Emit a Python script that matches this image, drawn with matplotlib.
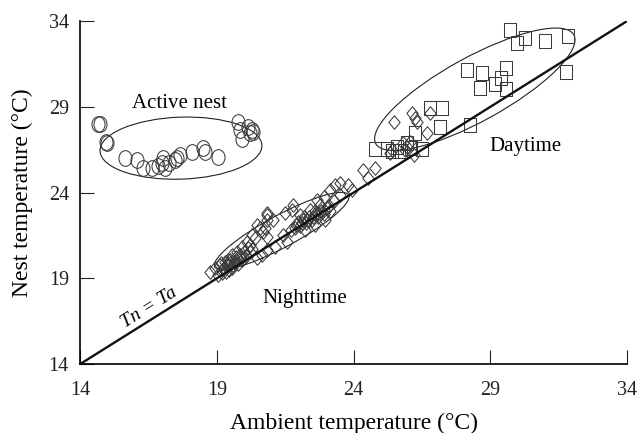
import matplotlib.pyplot as plt
import matplotlib.transforms as mtransforms
from matplotlib.patches import Ellipse
from matplotlib.path import Path

plt.rcParams['font.family'] = 'Liberation Serif'

# active nest (circles)
nest_x = [14.65, 14.73, 14.94, 14.98, 15.65, 16.07, 16.31, 16.62, 16.99, 17.05, 17.11,
          17.47, 17.54, 17.66, 18.08, 18.51, 18.57, 19.06, 19.79, 19.85, 19.91, 20.15,
          20.28, 20.34, 20.22, 16.85, 17.25]
nest_y = [27.99, 27.99, 26.96, 26.87, 25.99, 25.90, 25.41, 25.41, 25.70, 25.99, 25.41,
          25.90, 25.99, 26.19, 26.38, 26.58, 26.38, 26.09, 28.13, 27.64, 27.10, 27.84,
          27.64, 27.54, 27.45, 25.55, 25.75]

# daytime (squares)
day_x = [29.72, 29.97, 30.27, 31.00, 31.85, 31.77, 28.14, 28.69, 28.63, 29.17, 29.38,
         29.58, 29.58, 28.26, 26.80, 27.23, 27.16, 24.79, 25.21, 25.58, 25.95, 26.25,
         26.49, 25.40, 25.75, 26.10]
day_y = [33.48, 32.70, 33.03, 32.83, 33.14, 31.01, 31.14, 30.95, 30.11, 30.31, 30.69,
         31.24, 30.03, 27.94, 28.91, 28.91, 27.84, 26.52, 26.52, 26.67, 26.90, 27.45,
         26.52, 26.40, 26.45, 26.60]

# nighttime and transition (diamonds)
night_x = [18.75, 18.94, 19.05, 19.12, 19.19, 19.30, 19.34, 19.41, 19.48, 19.56, 19.63,
           19.70, 19.78, 19.85, 19.92, 20.00, 20.07, 20.14, 20.22, 19.36, 19.42, 19.55,
           19.73, 19.91, 20.09, 20.22, 20.28, 20.40, 20.46, 20.58, 20.70, 20.83, 21.07,
           20.46, 20.64, 21.13, 20.83, 19.20, 19.45, 19.60, 19.25, 19.70, 19.90, 20.30,
           19.15, 19.50,
           20.83, 20.83, 20.76, 20.83, 21.50, 21.80, 21.74, 21.43, 21.56, 21.86, 21.97,
           22.04, 22.15, 22.26, 22.37, 22.48, 22.59, 22.70, 22.81, 22.92, 23.03, 23.14,
           22.04, 22.41, 22.77, 22.23, 22.59, 22.96, 22.65, 22.90, 23.14, 23.32, 23.51,
           23.81, 23.93, 23.51, 21.70, 21.90, 22.10, 22.30, 22.50, 22.70, 22.90, 23.10,
           22.20, 22.60, 23.30,
           24.36, 24.79, 24.54, 25.46, 26.13, 26.25, 26.31, 26.67, 26.80, 25.82, 25.94,
           26.07, 25.88, 25.39, 25.33, 26.19]
night_y = [19.36, 19.60, 19.19, 19.77, 19.48, 19.95, 19.36, 19.71, 20.06, 19.60, 19.95,
           20.24, 19.83, 20.36, 20.06, 20.53, 20.30, 20.76, 20.53, 19.77, 20.06, 20.36,
           20.55, 20.84, 21.13, 20.94, 21.52, 21.33, 22.10, 21.91, 21.71, 22.69, 22.40,
           20.16, 20.36, 20.84, 20.65, 19.30, 19.50, 19.80, 19.60, 20.00, 20.20, 20.70,
           19.90, 19.90,
           22.79, 22.40, 21.91, 21.42, 22.79, 23.27, 22.98, 21.52, 21.13, 21.93, 22.28,
           22.05, 22.40, 22.22, 22.57, 22.40, 22.75, 22.57, 22.92, 22.75, 23.10, 22.92,
           22.69, 22.98, 23.27, 21.81, 22.10, 22.40, 23.56, 23.76, 24.15, 24.44, 24.54,
           24.44, 24.15, 23.85, 21.80, 22.10, 22.20, 22.40, 22.60, 22.80, 23.00, 23.20,
           22.60, 22.90, 23.50,
           25.31, 25.41, 24.83, 28.13, 28.62, 28.33, 28.13, 27.45, 28.64, 26.87, 26.67,
           26.96, 26.48, 26.48, 26.29, 26.19]

ref_line = [14, 34]
ticks = [14, 19, 24, 29, 34]

fig = plt.figure(figsize=(6.4, 4.33), dpi=100)
ax = fig.add_axes([0.125, 0.159, 0.855, 0.7925])

# slightly tall markers, the original picture is stretched vertically
circ = Path.unit_circle().transformed(mtransforms.Affine2D().scale(0.415, 0.5))
sq = Path([(-0.39, -0.5), (0.39, -0.5), (0.39, 0.5), (-0.39, 0.5), (-0.39, -0.5)], closed=True)
dia = Path([(0, -0.5), (0.415, 0), (0, 0.5), (-0.415, 0), (0, -0.5)], closed=True)

mk = dict(ls='none', mfc='none', mec='#3a3a3a', mew=0.75, clip_on=False)
ax.plot(night_x, night_y, marker=dia, ms=9.8, **mk)
ax.plot(day_x, day_y, marker=sq, ms=10.4, **mk)
ax.plot(nest_x, nest_y, marker=circ, ms=11.3, **mk)

ax.plot(ref_line, ref_line, color='#111111', lw=1.7, zorder=5)


def ring(cx, cy, a, b, ang):
    tr = fig.dpi_scale_trans + mtransforms.ScaledTranslation(cx, cy, ax.transData)
    ax.add_patch(Ellipse((0, 0), 2 * a / 100, 2 * b / 100, angle=ang, transform=tr,
                         fill=False, lw=0.8, ec='#222222', clip_on=False))


ring(17.69, 26.59, 81, 31, 2)
ring(21.37, 21.76, 76, 16, 28.3)
ring(28.43, 30.02, 113, 32, 28.8)

ax.text(17.62, 29.19, 'Active nest', ha='center', va='center', fontsize=15)
ax.text(22.23, 17.85, 'Nighttime', ha='center', va='center', fontsize=15)
ax.text(30.27, 26.71, 'Daytime', ha='center', va='center', fontsize=15)
ax.text(16.54, 17.27, 'Tn = Ta', rotation=32, style='italic', ha='center', va='center',
        fontsize=14)

ax.set_xlim(14, 34)
ax.set_ylim(14, 34)
ax.set_xticks(ticks)
ax.set_yticks(ticks)
ax.spines['top'].set_visible(False)
ax.spines['right'].set_visible(False)
ax.spines['left'].set_linewidth(1.2)
ax.spines['bottom'].set_linewidth(1.2)
ax.tick_params(direction='in', length=10, width=0.8, labelsize=14.5, colors='#222222')
ax.tick_params(axis='x', pad=12)
ax.tick_params(axis='y', pad=8)

ax.set_xlabel('Ambient temperature (°C)', fontsize=17, va='center')
ax.set_ylabel('Nest temperature (°C)', fontsize=17, va='center')
ax.xaxis.set_label_coords(0.501, -0.172)
ax.yaxis.set_label_coords(-0.106, 0.5)

fig.savefig('out.png', dpi=100)
